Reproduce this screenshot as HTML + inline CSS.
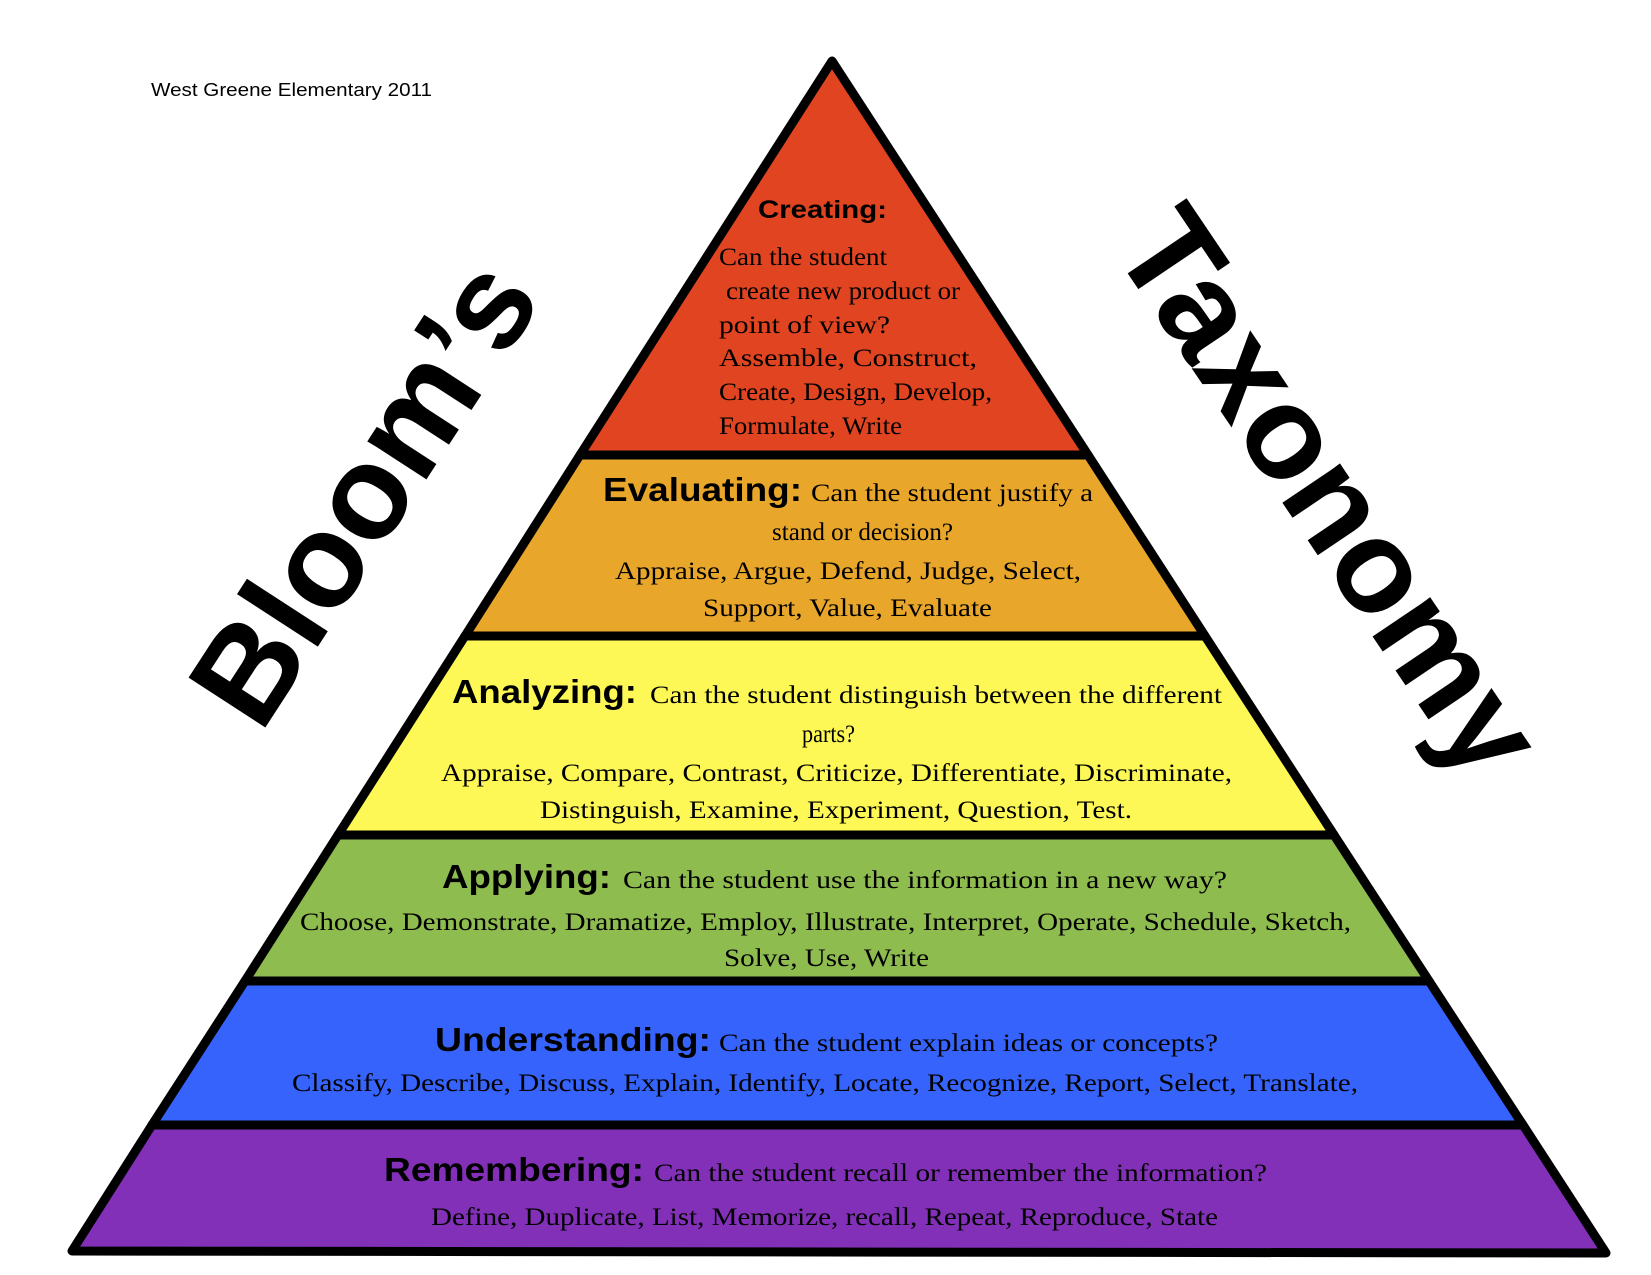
<!DOCTYPE html>
<html><head><meta charset="utf-8"><style>
html,body{margin:0;padding:0;background:#fff;}
svg{display:block;}
.h{font-family:"Liberation Sans",Arial,sans-serif;font-weight:bold;font-size:33px;fill:#000;}
.b{font-family:"Liberation Serif","Times New Roman",serif;font-size:25px;fill:#000;}
</style></head><body>
<svg width="1651" height="1275" viewBox="0 0 1651 1275" xmlns="http://www.w3.org/2000/svg">
<rect width="1651" height="1275" fill="#fff"/>
<g stroke="#000" stroke-width="9" stroke-linejoin="round">
<polygon points="832,61 1088,455 580,455" fill="#e04420"/>
<polygon points="580,455 1088,455 1205,636 465,636" fill="#e8a62a"/>
<polygon points="465,636 1205,636 1334,835 338,835" fill="#fdf855"/>
<polygon points="338,835 1334,835 1429,981 245,981" fill="#8ebc4f"/>
<polygon points="245,981 1429,981 1523,1125 152,1125" fill="#3563fb"/>
<polygon points="152,1125 1523,1125 1606,1253 72,1251" fill="#8330b8"/>
</g>
<text x="151" y="96" font-family="Liberation Sans,Arial,sans-serif" font-size="18" textLength="281" lengthAdjust="spacingAndGlyphs">West Greene Elementary 2011</text>
<text transform="translate(402,517) rotate(-57)" text-anchor="middle" font-family="Liberation Sans,Arial,sans-serif" font-weight="bold" font-size="133">Bloom’s</text>
<text transform="translate(1330,492) rotate(56)" text-anchor="middle" dominant-baseline="central" font-family="Liberation Sans,Arial,sans-serif" font-weight="bold" font-size="132">Taxonomy</text>

<text class="h" style="font-size:25px" x="758" y="218" textLength="129" lengthAdjust="spacingAndGlyphs">Creating:</text>
<text class="b" x="719" y="265" textLength="168" lengthAdjust="spacingAndGlyphs">Can the student</text>
<text class="b" x="726" y="299" textLength="234" lengthAdjust="spacingAndGlyphs">create new product or</text>
<text class="b" x="719" y="333" textLength="171" lengthAdjust="spacingAndGlyphs">point of view?</text>
<text class="b" x="719" y="366" textLength="258" lengthAdjust="spacingAndGlyphs">Assemble, Construct,</text>
<text class="b" x="719" y="400" textLength="273" lengthAdjust="spacingAndGlyphs">Create, Design, Develop,</text>
<text class="b" x="719" y="434" textLength="183" lengthAdjust="spacingAndGlyphs">Formulate, Write</text>

<text class="h" x="603" y="501" textLength="199" lengthAdjust="spacingAndGlyphs">Evaluating:</text>
<text class="b" x="811" y="501" textLength="282" lengthAdjust="spacingAndGlyphs">Can the student justify a</text>
<text class="b" x="772" y="540" textLength="181" lengthAdjust="spacingAndGlyphs">stand or decision?</text>
<text class="b" x="615" y="579" textLength="466" lengthAdjust="spacingAndGlyphs">Appraise, Argue, Defend, Judge, Select,</text>
<text class="b" x="703" y="616" textLength="289" lengthAdjust="spacingAndGlyphs">Support, Value, Evaluate</text>

<text class="h" x="452" y="703" textLength="185" lengthAdjust="spacingAndGlyphs">Analyzing:</text>
<text class="b" x="650" y="703" textLength="572" lengthAdjust="spacingAndGlyphs">Can the student distinguish between the different</text>
<text class="b" x="802" y="742" textLength="53" lengthAdjust="spacingAndGlyphs">parts?</text>
<text class="b" x="441" y="781" textLength="791" lengthAdjust="spacingAndGlyphs">Appraise, Compare, Contrast, Criticize, Differentiate, Discriminate,</text>
<text class="b" x="540" y="818" textLength="592" lengthAdjust="spacingAndGlyphs">Distinguish, Examine, Experiment, Question, Test.</text>

<text class="h" x="442" y="888" textLength="169" lengthAdjust="spacingAndGlyphs">Applying:</text>
<text class="b" x="623" y="888" textLength="604" lengthAdjust="spacingAndGlyphs">Can the student use the information in a new way?</text>
<text class="b" x="300" y="930" textLength="1051" lengthAdjust="spacingAndGlyphs">Choose, Demonstrate, Dramatize, Employ, Illustrate, Interpret, Operate, Schedule, Sketch,</text>
<text class="b" x="724" y="966" textLength="205" lengthAdjust="spacingAndGlyphs">Solve, Use, Write</text>

<text class="h" x="435" y="1051" textLength="276" lengthAdjust="spacingAndGlyphs">Understanding:</text>
<text class="b" x="719" y="1051" textLength="499" lengthAdjust="spacingAndGlyphs">Can the student explain ideas or concepts?</text>
<text class="b" x="292" y="1091" textLength="1066" lengthAdjust="spacingAndGlyphs">Classify, Describe, Discuss, Explain, Identify, Locate, Recognize, Report, Select, Translate,</text>

<text class="h" x="384" y="1181" textLength="260" lengthAdjust="spacingAndGlyphs">Remembering:</text>
<text class="b" x="654" y="1181" textLength="613" lengthAdjust="spacingAndGlyphs">Can the student recall or remember the information?</text>
<text class="b" x="431" y="1225" textLength="787" lengthAdjust="spacingAndGlyphs">Define, Duplicate, List, Memorize, recall, Repeat, Reproduce, State</text>
</svg>
</body></html>
